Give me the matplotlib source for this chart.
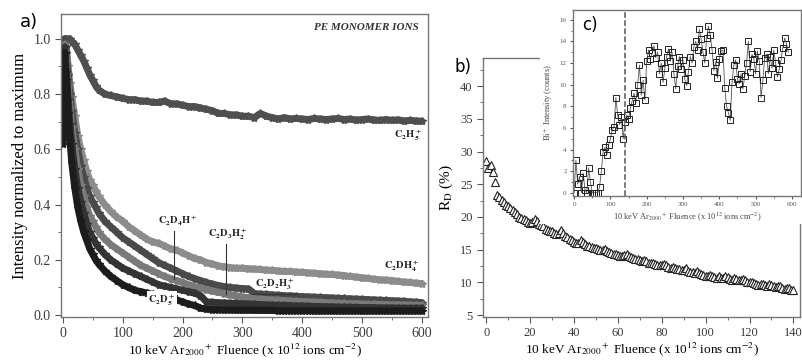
import matplotlib
matplotlib.use("Agg")
import matplotlib.pyplot as plt
import numpy as np
from matplotlib.patches import Rectangle
from matplotlib.ticker import MultipleLocator, FormatStrFormatter

plt.rcParams['font.family'] = ['Liberation Serif', 'DejaVu Serif']
plt.rcParams['mathtext.fontset'] = 'stix'

# ---- panel a: monomer ion intensities vs fluence ----
fluence_a = [0, 3, 6, 9, 12, 15, 20, 25, 30, 35, 40, 45, 50, 55, 60] + list(range(70, 601, 10))

c2h5 = [0.95, 0.99, 1.0, 1.0, 1.0, 0.99, 0.98, 0.96, 0.94, 0.92, 0.895, 0.87, 0.85, 0.83, 0.815,
        0.80, 0.795, 0.79, 0.785, 0.78, 0.78, 0.775, 0.775, 0.77, 0.77, 0.775, 0.765, 0.765, 0.76,
        0.755, 0.755, 0.75, 0.745, 0.74, 0.73, 0.73, 0.725, 0.725, 0.72, 0.72, 0.715, 0.73, 0.72,
        0.715, 0.71, 0.715, 0.71, 0.712, 0.71, 0.708, 0.712, 0.71, 0.708, 0.71, 0.712, 0.708, 0.71,
        0.706, 0.708, 0.71, 0.706, 0.705, 0.708, 0.705, 0.707, 0.703, 0.705, 0.703, 0.702]
c2dh4 = [0.95, 1.0, 0.97, 0.9, 0.84, 0.79, 0.72, 0.65, 0.6, 0.56, 0.52, 0.49, 0.47, 0.45, 0.43,
         0.40, 0.375, 0.355, 0.34, 0.32, 0.305, 0.29, 0.275, 0.265, 0.26, 0.25, 0.24, 0.235, 0.225,
         0.215, 0.205, 0.20, 0.19, 0.185, 0.178, 0.175, 0.172, 0.17, 0.17, 0.168, 0.167, 0.165, 0.163,
         0.162, 0.16, 0.158, 0.158, 0.156, 0.155, 0.153, 0.152, 0.15, 0.148, 0.147, 0.145, 0.143, 0.14,
         0.138, 0.135, 0.133, 0.13, 0.128, 0.127, 0.125, 0.122, 0.12, 0.118, 0.116, 0.114]
c2d2h3 = [0.9, 1.0, 0.95, 0.87, 0.8, 0.74, 0.66, 0.6, 0.54, 0.5, 0.46, 0.43, 0.41, 0.39, 0.37,
          0.34, 0.32, 0.30, 0.28, 0.265, 0.25, 0.235, 0.22, 0.205, 0.19, 0.18, 0.17, 0.16, 0.15,
          0.14, 0.132, 0.125, 0.118, 0.112, 0.107, 0.103, 0.10, 0.098, 0.096, 0.095, 0.078, 0.076, 0.075,
          0.073, 0.072, 0.07, 0.07, 0.068, 0.067, 0.066, 0.065, 0.064, 0.063, 0.062, 0.061, 0.06, 0.059,
          0.058, 0.057, 0.056, 0.055, 0.054, 0.053, 0.052, 0.051, 0.05, 0.048, 0.047, 0.045]
c2d3h2 = [0.85, 0.98, 0.92, 0.83, 0.75, 0.68, 0.6, 0.53, 0.47, 0.43, 0.39, 0.36, 0.34, 0.32, 0.30,
          0.275, 0.255, 0.24, 0.225, 0.21, 0.195, 0.18, 0.17, 0.16, 0.15, 0.14, 0.132, 0.125, 0.118,
          0.11, 0.103, 0.097, 0.092, 0.087, 0.082, 0.078, 0.074, 0.07, 0.066, 0.063, 0.06, 0.058, 0.056,
          0.055, 0.054, 0.052, 0.051, 0.05, 0.049, 0.048, 0.047, 0.046, 0.045, 0.044, 0.043, 0.042, 0.041,
          0.041, 0.04, 0.039, 0.039, 0.038, 0.038, 0.037, 0.037, 0.036, 0.036, 0.035, 0.035]
c2d4h = [0.75, 0.97, 0.88, 0.78, 0.69, 0.62, 0.53, 0.46, 0.41, 0.37, 0.33, 0.30, 0.28, 0.26, 0.245,
         0.22, 0.20, 0.185, 0.17, 0.16, 0.15, 0.14, 0.13, 0.12, 0.11, 0.105, 0.10, 0.095, 0.09,
         0.085, 0.08, 0.07, 0.048, 0.046, 0.045, 0.044, 0.043, 0.042, 0.041, 0.04, 0.039, 0.038, 0.037,
         0.036, 0.035, 0.035, 0.034, 0.033, 0.033, 0.032, 0.031, 0.031, 0.03, 0.03, 0.029, 0.029, 0.028,
         0.028, 0.027, 0.027, 0.027, 0.026, 0.026, 0.026, 0.025, 0.025, 0.025, 0.025, 0.025]
c2d5 = [0.62, 0.95, 0.85, 0.73, 0.63, 0.55, 0.46, 0.39, 0.34, 0.30, 0.27, 0.24, 0.22, 0.20, 0.185,
        0.16, 0.14, 0.125, 0.11, 0.10, 0.09, 0.085, 0.08, 0.075, 0.07, 0.065, 0.06, 0.055, 0.048,
        0.04, 0.035, 0.025, 0.022, 0.02, 0.02, 0.019, 0.019, 0.018, 0.018, 0.018, 0.017, 0.017, 0.017,
        0.017, 0.016, 0.016, 0.016, 0.016, 0.016, 0.016, 0.015, 0.015, 0.015, 0.015, 0.015, 0.015, 0.015,
        0.015, 0.015, 0.015, 0.015, 0.015, 0.015, 0.015, 0.015, 0.015, 0.015, 0.015, 0.015]

series_a = [(c2h5, '#4f4f4f'), (c2dh4, '#8c8c8c'), (c2d2h3, '#4a4a4a'),
            (c2d3h2, '#7a7a7a'), (c2d4h, '#333333'), (c2d5, '#1c1c1c')]

# ---- panel b: R_D vs fluence ----
fluence_b = np.arange(0, 141, 1)
rd = [28.6, 27.5, 27.9, 26.8, 25.4, 23.3, 23.0, 22.6, 22.3, 21.9,
      21.6, 21.3, 21.0, 20.8, 20.4, 20.0, 19.9, 19.7, 19.5, 19.2,
      19.0, 19.3, 19.7, 19.4, 18.9, 18.7, 18.6, 18.2, 18.0, 17.8,
      17.9, 17.5, 17.4, 17.6, 18.0, 17.6, 17.1, 16.9, 16.7, 16.4,
      16.2, 16.0, 16.0, 16.4, 16.2, 15.8, 15.6, 15.5, 15.4, 15.2,
      15.3, 15.1, 15.0, 14.9, 15.1, 14.8, 14.6, 14.5, 14.4, 14.3,
      14.2, 14.0, 14.0, 14.2, 14.3, 14.0, 13.8, 13.7, 13.6, 13.5,
      13.4, 13.3, 13.4, 13.2, 13.0, 13.0, 12.9, 12.8, 12.7, 12.6,
      12.6, 12.8, 12.7, 12.4, 12.2, 12.3, 12.2, 12.0, 12.0, 11.9,
      11.9, 12.2, 11.8, 11.6, 11.6, 11.5, 11.8, 11.4, 11.2, 11.1,
      11.0, 10.9, 11.1, 10.9, 10.8, 10.7, 10.9, 10.6, 10.6, 10.9,
      10.8, 10.5, 10.4, 10.6, 10.5, 10.3, 10.3, 10.5, 10.4, 10.1,
      10.0, 10.1, 9.9, 9.7, 9.6, 9.8, 9.8, 9.6, 9.5, 9.7,
      9.6, 9.4, 9.3, 9.5, 9.4, 9.1, 9.0, 9.2, 9.2, 8.9,
      8.9]

# ---- panel c: Bi+ intensity vs fluence ----
fluence_c = np.arange(0, 591, 5)
bi = [0.0, 3.0, 0.8, 1.5, 0.0, 1.8, 0.3, 0.0, 2.3, 1.0, 0.0, 0.0, 0.0, 0.0, 0.5,
      2.0, 3.8, 4.2, 3.5, 4.4, 5.0, 5.8, 6.1, 8.8, 7.2, 6.3, 7.0, 5.0, 6.5, 7.2,
      6.8, 7.8, 8.5, 9.2, 8.3, 10.0, 11.8, 9.0, 10.4, 8.6, 12.2, 13.2, 12.4, 12.9, 13.6,
      12.5, 13.0, 11.0, 12.0, 10.2, 11.5, 12.6, 13.3, 12.2, 13.0, 11.0, 9.6, 11.7, 12.6, 11.4,
      12.3, 10.5, 9.9, 11.2, 12.6, 12.0, 13.5, 14.0, 13.2, 15.1, 14.2, 13.0, 12.0, 14.3, 15.4,
      14.6, 13.2, 11.3, 12.1, 10.6, 12.4, 13.1, 13.2, 9.7, 8.0, 7.4, 6.7, 10.2, 11.8, 12.3,
      10.5, 10.1, 11.0, 9.6, 10.8, 12.0, 14.0, 11.2, 12.8, 12.4, 11.0, 13.1, 12.2, 8.8, 10.4,
      12.5, 12.8, 11.0, 12.6, 11.5, 13.2, 12.0, 10.7, 11.4, 12.3, 13.4, 14.3, 13.8, 13.0]


def frac(l, t, r, b):
    return [l / 803, 1 - b / 361, (r - l) / 803, (b - t) / 361]


fig = plt.figure(figsize=(8.03, 3.61), dpi=100)
ax_a = fig.add_axes(frac(61, 14, 428, 317))
ax_b = fig.add_axes(frac(483, 58, 800, 317))
ax_c = fig.add_axes(frac(573, 10, 801, 196), zorder=3)

for ax in (ax_a, ax_b, ax_c):
    for s in ax.spines.values():
        s.set_color('#777777')
        s.set_linewidth(1.0)
    ax.tick_params(which='both', direction='out', color='#555555', labelcolor='#3a3a3a')

# panel a
for vals, col in series_a:
    ax_a.plot(fluence_a, vals, '-', color=col, lw=5, solid_capstyle='round')
    ax_a.plot(fluence_a, vals, '*', color=col, ms=6)
ax_a.set_xlim(-3, 610)
ax_a.set_ylim(-0.007, 1.09)
ax_a.xaxis.set_major_locator(MultipleLocator(100))
ax_a.xaxis.set_minor_locator(MultipleLocator(50))
ax_a.set_yticks([0, 0.2, 0.4, 0.6, 0.8, 1.0])
ax_a.yaxis.set_minor_locator(MultipleLocator(0.1))
ax_a.yaxis.set_major_formatter(FormatStrFormatter('%.1f'))
ax_a.tick_params(which='major', length=4, labelsize=10)
ax_a.tick_params(which='minor', length=2.5)
ax_a.set_ylabel('Intensity normalized to maximum', fontsize=12, labelpad=4)
ax_a.set_xlabel(r'10 keV Ar$_{2000}$$^+$ Fluence (x 10$^{12}$ ions cm$^{-2}$)', fontsize=9.5, labelpad=0.5)

lab = dict(fontsize=7.5, ha='center', va='center', color='#222222')
ax_a.text(595, 1.04, 'PE MONOMER IONS', ha='right', va='center', fontsize=8,
          fontweight='bold', fontstyle='italic', color='#333333')
ax_a.text(577, 0.652, r'$\mathbf{C_2H_5^+}$', **lab)
ax_a.text(567, 0.178, r'$\mathbf{C_2DH_4^+}$', **lab)
ax_a.text(192, 0.34, r'$\mathbf{C_2D_4H^+}$', **lab)
ax_a.plot([186, 186], [0.305, 0.13], color='#333333', lw=0.8)
ax_a.text(276, 0.294, r'$\mathbf{C_2D_3H_2^+}$', **lab)
ax_a.plot([272, 272], [0.258, 0.077], color='#333333', lw=0.8)
ax_a.text(354, 0.113, r'$\mathbf{C_2D_2H_3^+}$', **lab)
ax_a.plot([316, 391], [0.077, 0.077], color='#333333', lw=0.8)
ax_a.text(166, 0.055, r'$\mathbf{C_2D_5^+}$',
          bbox=dict(facecolor='white', edgecolor='none', pad=1), **lab)
ax_a.plot([129, 190], [0.074, 0.074], color='#333333', lw=0.8)

# panel b
ax_b.plot(fluence_b, rd, '^', ms=5.5, mfc='white', mec='#222222', mew=0.8)
ax_b.set_xlim(-1.5, 143)
ax_b.set_ylim(4.7, 44.3)
ax_b.set_yticks([5, 10, 15, 20, 25, 30, 35, 40])
ax_b.xaxis.set_major_locator(MultipleLocator(20))
ax_b.xaxis.set_minor_locator(MultipleLocator(10))
ax_b.yaxis.set_minor_locator(MultipleLocator(2.5))
ax_b.tick_params(which='major', length=4, labelsize=9)
ax_b.tick_params(which='minor', length=2.5)
ax_b.set_ylabel(r'R$_\mathrm{D}$ (%)', fontsize=11, labelpad=4)
ax_b.set_xlabel(r'10 keV Ar$_{2000}$$^+$ Fluence (x 10$^{12}$ ions cm$^{-2}$)', fontsize=9.5, labelpad=1)

# white backing for inset and its labels
fig.add_artist(Rectangle((540 / 803, 1 - 224 / 361), 1, 1, transform=fig.transFigure,
                         facecolor='white', edgecolor='none', zorder=2))

# panel c (inset)
ax_c.plot(fluence_c, bi, '-', color='#555555', lw=0.6)
ax_c.plot(fluence_c, bi, 's', ms=4.5, mfc='none', mec='#222222', mew=0.7)
ax_c.axvline(140, color='#555555', ls='--', lw=1.1)
ax_c.set_xlim(-3, 625)
ax_c.set_ylim(-0.3, 16.9)
ax_c.xaxis.set_major_locator(MultipleLocator(100))
ax_c.xaxis.set_minor_locator(MultipleLocator(50))
ax_c.yaxis.set_major_locator(MultipleLocator(2))
ax_c.yaxis.set_minor_locator(MultipleLocator(1))
ax_c.tick_params(which='major', length=2.5, labelsize=5, pad=2, labelcolor='#555555')
ax_c.tick_params(which='minor', length=1.5)
ax_c.set_ylabel(r'Bi$^+$ Intensity (counts)', fontsize=6, labelpad=3, color='#444444')
ax_c.set_xlabel(r'10 keV Ar$_{2000}$$^+$ Fluence (x 10$^{12}$ ions cm$^{-2}$)', fontsize=6,
                labelpad=2, color='#444444')

fig.text(20 / 803, 1 - 22 / 361, 'a)', fontsize=13, family='DejaVu Sans', va='center', ha='left')
fig.text(455 / 803, 1 - 67 / 361, 'b)', fontsize=12, family='DejaVu Sans', va='center', ha='left')
fig.text(582 / 803, 1 - 25 / 361, 'c)', fontsize=12, family='DejaVu Sans', va='center', ha='left',
         zorder=5)

fig.savefig('out.png', dpi=100)
